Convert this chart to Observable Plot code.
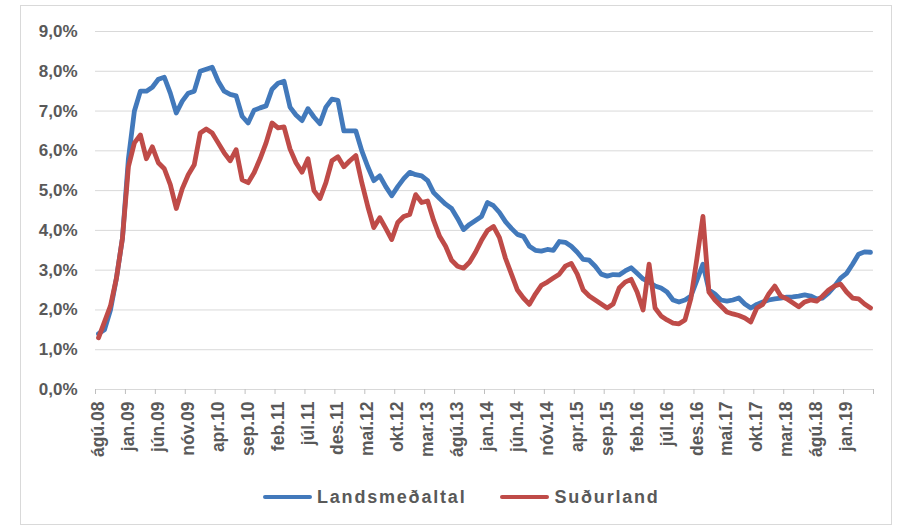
<!DOCTYPE html>
<html><head><meta charset="utf-8">
<script src="https://cdn.jsdelivr.net/npm/d3@7"></script>
<script src="https://cdn.jsdelivr.net/npm/@observablehq/plot@0.6"></script>
<style>
body{margin:0;background:#fff;font-family:"Liberation Sans",Arial,sans-serif;}
#frame{position:absolute;left:20px;top:5px;width:872px;height:520px;border:1px solid #d9d9d9;box-sizing:border-box;}
#chart{position:absolute;left:0;top:0;}
#legend{position:absolute;top:486px;left:263px;display:flex;align-items:center;font-weight:bold;font-size:18px;color:#595959;letter-spacing:1.8px;line-height:22px;}
.sw{display:inline-block;width:49px;height:4.5px;border-radius:2px;margin-right:5px;}
.item{display:flex;align-items:center;margin-right:34px;}
</style></head>
<body>
<div id="frame"></div>
<div id="chart"></div>
<div id="legend"></div>
<script>
const xTickLabels = ["ágú.08","jan.09","jún.09","nóv.09","apr.10","sep.10","feb.11","júl.11","des.11","maí.12","okt.12","mar.13","ágú.13","jan.14","jún.14","nóv.14","apr.15","sep.15","feb.16","júl.16","des.16","maí.17","okt.17","mar.18","ágú.18","jan.19"];
const yTicks = [0,1,2,3,4,5,6,7,8,9];
const seriesNames = ["Landsmeðaltal","Suðurland"];
const seriesColors = ["#4279bb","#bf4b48"];
// monthly values, ágú.08 .. maí.19 (130 months), percent
const landsmedaltal = [1.4,1.5,2.0,2.8,3.8,5.8,7.0,7.5,7.5,7.6,7.8,7.85,7.45,6.95,7.25,7.45,7.5,8.0,8.05,8.1,7.75,7.5,7.42,7.38,6.87,6.7,7.02,7.08,7.13,7.55,7.7,7.75,7.1,6.9,6.76,7.06,6.85,6.68,7.1,7.3,7.27,6.5,6.5,6.5,6.0,5.6,5.25,5.37,5.1,4.87,5.1,5.3,5.46,5.4,5.37,5.25,4.95,4.8,4.66,4.55,4.3,4.02,4.15,4.25,4.35,4.7,4.62,4.45,4.22,4.05,3.9,3.85,3.6,3.5,3.48,3.52,3.5,3.72,3.7,3.6,3.45,3.27,3.25,3.1,2.9,2.85,2.89,2.88,2.98,3.06,2.92,2.78,2.7,2.6,2.55,2.45,2.25,2.2,2.25,2.35,2.75,3.15,2.5,2.4,2.25,2.22,2.25,2.3,2.15,2.05,2.14,2.2,2.25,2.28,2.3,2.32,2.33,2.35,2.38,2.35,2.28,2.3,2.43,2.6,2.8,2.92,3.15,3.4,3.46,3.45];
const sudurland = [1.3,1.7,2.1,2.8,3.8,5.6,6.2,6.4,5.8,6.1,5.7,5.55,5.15,4.55,5.05,5.4,5.65,6.45,6.55,6.45,6.2,5.95,5.75,6.03,5.27,5.2,5.45,5.8,6.2,6.7,6.58,6.6,6.05,5.7,5.46,5.8,5.0,4.8,5.2,5.75,5.85,5.6,5.75,5.88,5.2,4.6,4.07,4.32,4.05,3.77,4.2,4.35,4.4,4.9,4.7,4.74,4.25,3.85,3.6,3.25,3.1,3.05,3.2,3.45,3.75,4.0,4.1,3.82,3.3,2.9,2.5,2.3,2.14,2.4,2.62,2.7,2.8,2.9,3.1,3.17,2.9,2.5,2.35,2.25,2.15,2.05,2.15,2.55,2.7,2.77,2.45,2.0,3.15,2.05,1.85,1.75,1.67,1.65,1.75,2.3,3.3,4.35,2.45,2.25,2.1,1.95,1.9,1.86,1.8,1.7,2.05,2.14,2.4,2.6,2.35,2.28,2.18,2.08,2.2,2.25,2.22,2.35,2.5,2.6,2.65,2.45,2.3,2.28,2.15,2.05];

const nMonths = landsmedaltal.length;
const rowsA = landsmedaltal.map((v, i) => ({x: i + 0.5, v}));
const rowsB = sudurland.map((v, i) => ({x: i + 0.5, v}));
const tickIdx = d3.range(0, nMonths + 1, 5);
const labelPos = xTickLabels.map((_, k) => 5 * k + 0.5);
const labelMap = new Map(labelPos.map((p, k) => [p, xTickLabels[k]]));
const fmtY = d => d.toFixed(1).replace(".", ",") + "%";

const chart = Plot.plot({
  width: 899, height: 470,
  marginTop: 31, marginBottom: 81, marginLeft: 95, marginRight: 26,
  x: {domain: [0, nMonths], axis: null},
  y: {domain: [0, 9], axis: null},
  style: {fontFamily: "'Liberation Sans', Arial, sans-serif", fontWeight: "bold", fontSize: "16px", color: "#595959", background: "transparent", overflow: "visible"},
  marks: [
    Plot.gridY(yTicks, {stroke: "#d9d9d9", strokeOpacity: 1, strokeWidth: 1}),
    Plot.axisY(yTicks, {label: null, tickSize: 0, tickPadding: 18, tickFormat: fmtY, fill: "#595959", fontSize: 17}),
    Plot.axisX(tickIdx, {label: null, tickSize: 5, tickFormat: () => "", stroke: "#bfbfbf", strokeOpacity: 1}),
    Plot.axisX(labelPos, {label: null, tickSize: 0, tickRotate: -90, tickPadding: 12, tickFormat: d => labelMap.get(d), fill: "#595959", fontSize: 17.5}),
    Plot.line(rowsA, {x: "x", y: "v", stroke: seriesColors[0], strokeWidth: 4.8, strokeLinejoin: "round", strokeLinecap: "round"}),
    Plot.line(rowsB, {x: "x", y: "v", stroke: seriesColors[1], strokeWidth: 4.8, strokeLinejoin: "round", strokeLinecap: "round"})
  ]
});
document.getElementById("chart").appendChild(chart);

const legend = document.getElementById("legend");
seriesNames.forEach((name, k) => {
  const item = document.createElement("div");
  item.className = "item";
  const sw = document.createElement("span");
  sw.className = "sw";
  sw.style.background = seriesColors[k];
  const t = document.createElement("span");
  t.textContent = name;
  item.appendChild(sw); item.appendChild(t);
  legend.appendChild(item);
});
</script>
</body></html>
